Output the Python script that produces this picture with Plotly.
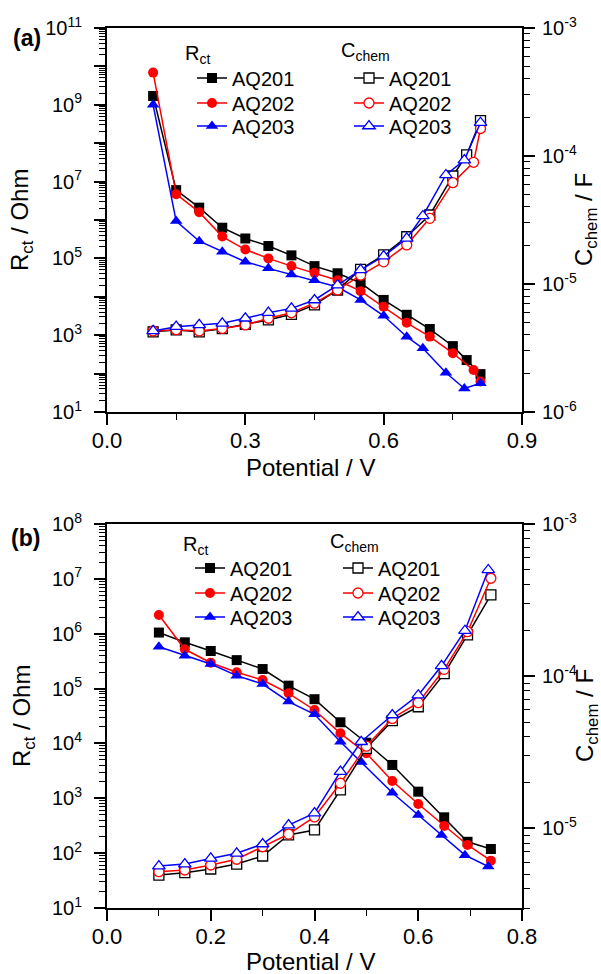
import plotly.graph_objects as go

# ---------------- data: panel (a) ----------------
xa_201 = [0.1, 0.15, 0.2, 0.25, 0.3, 0.35, 0.4, 0.45, 0.5, 0.55, 0.6, 0.65, 0.7, 0.75, 0.78, 0.81]
rct_a_201 = [1.7e9, 6.0e6, 2.1e6, 6.3e5, 3.3e5, 2.1e5, 1.2e5, 6.3e4, 4.1e4, 2.3e4, 8.3e3, 3.4e3, 1.45e3, 520, 225, 97]
cch_a_201 = [4.23e-6, 4.38e-6, 4.23e-6, 4.48e-6, 4.84e-6, 5.24e-6, 5.8e-6, 6.86e-6, 8.98e-6, 1.30e-5, 1.69e-5, 2.34e-5, 3.46e-5, 6.98e-5, 1.02e-4, 1.89e-4]

xa_202 = [0.1, 0.15, 0.2, 0.25, 0.3, 0.35, 0.4, 0.45, 0.5, 0.55, 0.6, 0.65, 0.7, 0.75, 0.795, 0.81]
rct_a_202 = [6.9e9, 4.7e6, 1.6e6, 3.7e5, 1.7e5, 1.0e5, 6.3e4, 4.2e4, 2.7e4, 1.4e4, 5.5e3, 2.1e3, 920, 340, 124, 62]
cch_a_202 = [4.3e-6, 4.4e-6, 4.3e-6, 4.5e-6, 4.79e-6, 5.4e-6, 5.96e-6, 7.08e-6, 8.98e-6, 1.17e-5, 1.49e-5, 2.02e-5, 3.26e-5, 6.19e-5, 8.93e-5, 1.64e-4]

xa_203 = [0.1, 0.15, 0.2, 0.25, 0.3, 0.35, 0.4, 0.45, 0.5, 0.55, 0.6, 0.65, 0.685, 0.735, 0.775, 0.81]
rct_a_203 = [1.0e9, 9.4e5, 2.8e5, 1.5e5, 8.2e4, 5.5e4, 3.8e4, 2.7e4, 1.8e4, 8.3e3, 3.2e3, 910, 456, 105, 41, 56]
cch_a_203 = [4.3e-6, 4.64e-6, 4.79e-6, 4.93e-6, 5.4e-6, 5.97e-6, 6.45e-6, 7.5e-6, 9.8e-6, 1.29e-5, 1.65e-5, 2.27e-5, 3.4e-5, 7.11e-5, 9.3e-5, 1.82e-4]

# ---------------- data: panel (b) ----------------
xb_201 = [0.1, 0.15, 0.2, 0.25, 0.3, 0.35, 0.4, 0.45, 0.5, 0.55, 0.6, 0.65, 0.695, 0.74]
rct_b_201 = [1.05e6, 6.97e5, 4.84e5, 3.3e5, 2.27e5, 1.13e5, 6.4e4, 2.43e4, 1.03e4, 4.05e3, 1.32e3, 450, 161, 119]
cch_b_201 = [4.94e-6, 5.12e-6, 5.41e-6, 5.83e-6, 6.59e-6, 9.06e-6, 9.77e-6, 1.79e-5, 3.36e-5, 5.1e-5, 6.3e-5, 1.04e-4, 1.87e-4, 3.42e-4]

xb_202 = [0.1, 0.15, 0.2, 0.25, 0.3, 0.35, 0.4, 0.45, 0.5, 0.55, 0.6, 0.65, 0.695, 0.74]
rct_b_202 = [2.2e6, 5.2e5, 2.96e5, 1.98e5, 1.43e5, 8.2e4, 4.07e4, 1.53e4, 6.6e3, 2.07e3, 787, 313, 141, 73]
cch_b_202 = [5.2e-6, 5.33e-6, 5.75e-6, 6.27e-6, 7.58e-6, 9.18e-6, 1.19e-5, 1.98e-5, 3.47e-5, 5.28e-5, 6.7e-5, 1.11e-4, 1.96e-4, 4.4e-4]

xb_203 = [0.1, 0.15, 0.2, 0.25, 0.3, 0.35, 0.4, 0.45, 0.49, 0.55, 0.6, 0.645, 0.69, 0.735]
rct_b_203 = [5.8e5, 3.98e5, 2.8e5, 1.72e5, 1.21e5, 5.8e4, 3.4e4, 1.07e4, 4.6e3, 1.26e3, 496, 214, 92, 57]
cch_b_203 = [5.66e-6, 5.83e-6, 6.35e-6, 6.86e-6, 7.9e-6, 1.05e-5, 1.26e-5, 2.36e-5, 3.71e-5, 5.56e-5, 7.5e-5, 1.17e-4, 1.99e-4, 4.99e-4]

samples = ["AQ201", "AQ202", "AQ203"]
colors = ["#000000", "#ff0000", "#0000ff"]
symbols = ["square", "circle", "triangle-up"]

FONT = "Liberation Sans, Arial, sans-serif"
XFS = 22   # x tick labels
YFS = 20   # y tick labels
TFS = 24   # axis titles
LFS = 20   # legend text

# plot-area geometry (pixels) used to place legends / titles
W, H = 601, 974
L, R, T, B = 107, 79, 28, 66
PW, PH = W - L - R, H - T - B

def px_x(px):
    return (px - L) / PW

def px_y(py):
    return (H - B - py) / PH

fig = go.Figure()

panel_a = [(xa_201, rct_a_201, cch_a_201), (xa_202, rct_a_202, cch_a_202), (xa_203, rct_a_203, cch_a_203)]
panel_b = [(xb_201, rct_b_201, cch_b_201), (xb_202, rct_b_202, cch_b_202), (xb_203, rct_b_203, cch_b_203)]

def add_panel(data, xax, yl, yr, leg_r, leg_c):
    for i, (xs, r, c) in enumerate(data):
        fig.add_trace(go.Scatter(
            x=xs, y=c, xaxis=xax, yaxis=yr, name=samples[i], legend=leg_c[i],
            mode="lines+markers", showlegend=True,
            line=dict(color=colors[i], width=1.5),
            marker=dict(symbol=symbols[i], size=10 if i < 2 else 11, color="white",
                        line=dict(color=colors[i], width=1.3))))
    for i, (xs, r, c) in enumerate(data):
        fig.add_trace(go.Scatter(
            x=xs, y=r, xaxis=xax, yaxis=yl, name=samples[i], legend=leg_r[i],
            mode="lines+markers", showlegend=True,
            line=dict(color=colors[i], width=1.5),
            marker=dict(symbol=symbols[i], size=10 if i < 2 else 11, color=colors[i],
                        line=dict(width=0))))

add_panel(panel_a, "x", "y", "y2", ["legend", "legend2", "legend3"], ["legend4", "legend5", "legend6"])
add_panel(panel_b, "x2", "y3", "y4", ["legend7", "legend8", "legend9"], ["legend10", "legend11", "legend12"])

def sup(n):
    return "10<sup>%d</sup>" % n

def decade_ticks(lo, hi, label_every=1, offset=0):
    vals, texts = [], []
    for n in range(lo, hi + 1):
        vals.append(10.0 ** n)
        texts.append(sup(n) if (n - offset) % label_every == 0 else "")
    return vals, texts

def minor_vals(lo, hi):
    return [k * 10.0 ** n for n in range(lo, hi) for k in range(2, 10)]

axis_common = dict(showline=True, linecolor="black", linewidth=2, ticks="outside",
                   tickcolor="black", tickwidth=1.5, ticklen=11, showgrid=False, zeroline=False)

def ylog(rng, tv, tt, mv, side="left", standoff=8):
    d = dict(axis_common)
    d.update(type="log", range=rng, tickmode="array", tickvals=tv, ticktext=tt,
             tickfont=dict(family=FONT, size=YFS, color="black"),
             ticklabelstandoff=standoff,
             minor=dict(tickmode="array", tickvals=mv, ticks="outside", ticklen=6,
                        tickwidth=1.2, tickcolor="black", showgrid=False),
             side=side)
    return d

DA = [px_y(412), 1.0]
DB = [0.0, px_y(524)]

tv, tt = decade_ticks(1, 11, 2, 1)
ya = ylog([1, 11], tv, tt, minor_vals(1, 11))
ya.update(domain=DA, anchor="x")
tv, tt = decade_ticks(-6, -3)
ya2 = ylog([-6, -3], tv, tt, minor_vals(-6, -3), side="right", standoff=3)
ya2.update(overlaying="y", anchor="x")

tv, tt = decade_ticks(1, 8)
yb = ylog([1, 8], tv, tt, minor_vals(1, 8))
yb.update(domain=DB, anchor="x2")
tv, tt = decade_ticks(-5, -3)
mvb = [k * 1e-6 for k in range(3, 10)] + minor_vals(-5, -3)
yb2 = ylog([-5.5229, -3], tv, tt, mvb, side="right", standoff=3)
yb2.update(overlaying="y3", anchor="x2")

def xlin(rng, dt, mdt, anchor):
    d = dict(axis_common)
    d.update(range=rng, tick0=0, dtick=dt, tickformat=".1f", mirror=True, anchor=anchor,
             domain=[0, 1], tickfont=dict(family=FONT, size=XFS, color="black"),
             ticklabelstandoff=-3,
             minor=dict(dtick=mdt, tick0=0, ticks="outside", ticklen=6, tickwidth=1.2,
                        tickcolor="black", showgrid=False))
    return d

def legend_cfg(text_px, row_py):
    return dict(x=px_x(text_px - 40), y=px_y(row_py), xanchor="left", yanchor="middle",
                bgcolor="rgba(0,0,0,0)", borderwidth=0, visible=True,
                font=dict(family=FONT, size=LFS, color="black"),
                tracegroupgap=0, itemwidth=30)

legends = {}
rows_a = [78, 103, 126]
rows_b = [568, 593, 617]
for i in range(3):
    legends["legend" if i == 0 else "legend%d" % (i + 1)] = legend_cfg(232, rows_a[i])
    legends["legend%d" % (i + 4)] = legend_cfg(389, rows_a[i])
    legends["legend%d" % (i + 7)] = legend_cfg(230, rows_b[i])
    legends["legend%d" % (i + 10)] = legend_cfg(378, rows_b[i])

def ann(text, px, py, size, angle=0, xanchor="center"):
    return dict(text=text, xref="paper", yref="paper", x=px_x(px), y=px_y(py),
                xanchor=xanchor, yanchor="middle", showarrow=False, textangle=angle,
                font=dict(family=FONT, size=size, color="black"))

annotations = [
    ann("<b>(a)</b>", 27, 38, 23),
    ann("<b>(b)</b>", 25, 538, 23),
    # legend group titles
    ann("R<sub>ct</sub>", 183, 55, LFS, xanchor="left"),
    ann("C<sub>chem</sub>", 339, 52, LFS, xanchor="left"),
    ann("R<sub>ct</sub>", 181, 545, LFS, xanchor="left"),
    ann("C<sub>chem</sub>", 328, 542, LFS, xanchor="left"),
    # axis titles
    ann("R<sub>ct</sub> / Ohm", 22, 220, TFS, angle=-90),
    ann("C<sub>chem</sub> / F", 586, 220, TFS, angle=-90),
    ann("Potential / V", 310, 467, TFS),
    ann("R<sub>ct</sub> / Ohm", 23, 716, TFS, angle=-90),
    ann("C<sub>chem</sub> / F", 586, 716, TFS, angle=-90),
    ann("Potential / V", 310, 962, TFS),
]

fig.update_layout(
    width=W, height=H,
    margin=dict(l=L, r=R, t=T, b=B),
    paper_bgcolor="white", plot_bgcolor="white",
    showlegend=True,
    font=dict(family=FONT, size=YFS, color="black"),
    xaxis=xlin([0, 0.9], 0.3, 0.15, "y"),
    xaxis2=xlin([0, 0.8], 0.2, 0.1, "y3"),
    yaxis=ya, yaxis2=ya2, yaxis3=yb, yaxis4=yb2,
    annotations=annotations,
    **legends,
)

fig.write_html("out.html", config={"displayModeBar": False},
               post_script="document.body.style.margin='0px';document.body.style.overflow='hidden';")
